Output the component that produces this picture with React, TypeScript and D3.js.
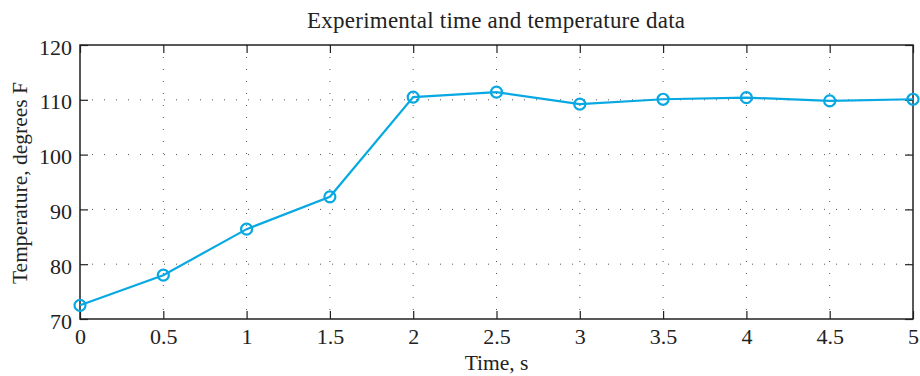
import React, { useEffect, useRef } from "react";
import * as d3 from "d3";

// time in seconds
const times = [0, 0.5, 1, 1.5, 2, 2.5, 3, 3.5, 4, 4.5, 5];
// temperature readings, degrees F
const temps = [72.5, 78.0, 86.4, 92.3, 110.5, 111.4, 109.2, 110.1, 110.4, 109.8, 110.1];

const xTicks = [0, 0.5, 1, 1.5, 2, 2.5, 3, 3.5, 4, 4.5, 5];
const yTicks = [70, 80, 90, 100, 110, 120];

const App = () => {
  const ref = useRef<SVGSVGElement>(null);

  useEffect(() => {
    const svg = d3.select(ref.current);
    svg.selectAll("*").remove();

    const W = 920;
    const H = 376;
    const margin = { top: 45, right: 7, bottom: 57, left: 80 };
    const width = W - margin.left - margin.right;
    const height = H - margin.top - margin.bottom;
    const font = "'Liberation Serif', 'Times New Roman', serif";

    const x = d3.scaleLinear().domain([0, 5]).range([0, width]);
    const y = d3.scaleLinear().domain([70, 120]).range([height, 0]);

    const g = svg.append("g").attr("transform", `translate(${margin.left},${margin.top})`);

    // dotted grid
    g.selectAll(".vgrid")
      .data(xTicks.slice(1, -1))
      .enter()
      .append("line")
      .attr("x1", (d) => x(d))
      .attr("x2", (d) => x(d))
      .attr("y1", 0)
      .attr("y2", height)
      .attr("stroke", "#555")
      .attr("stroke-width", 1)
      .attr("stroke-dasharray", "1,11");
    g.selectAll(".hgrid")
      .data(yTicks.slice(1, -1))
      .enter()
      .append("line")
      .attr("x1", 0)
      .attr("x2", width)
      .attr("y1", (d) => y(d))
      .attr("y2", (d) => y(d))
      .attr("stroke", "#555")
      .attr("stroke-width", 1)
      .attr("stroke-dasharray", "1,11");

    // axes with inward ticks
    const styleAxis = (a: any) => {
      a.select(".domain").remove();
      a.selectAll("line").attr("stroke", "#222").attr("stroke-width", 1.2);
      a.selectAll("text")
        .attr("font-family", font)
        .attr("font-size", 22)
        .attr("fill", "#222");
    };
    const xAxis = g.append("g")
      .attr("transform", `translate(0,${height})`)
      .call(d3.axisBottom(x).tickValues(xTicks).tickSize(-8).tickFormat(d3.format("")))
      .call(styleAxis);
    xAxis.selectAll("text").attr("y", 25).attr("dy", 0);

    const yAxis = g.append("g")
      .call(d3.axisLeft(y).tickValues(yTicks).tickSize(-8).tickPadding(8))
      .call(styleAxis);
    yAxis.selectAll("text").attr("dy", 9);

    g.append("g")
      .call(d3.axisTop(x).tickValues(xTicks).tickSize(-8).tickFormat(() => ""))
      .call(styleAxis);
    g.append("g")
      .attr("transform", `translate(${width},0)`)
      .call(d3.axisRight(y).tickValues(yTicks).tickSize(-8).tickFormat(() => ""))
      .call(styleAxis);

    // box
    g.append("rect")
      .attr("width", width)
      .attr("height", height)
      .attr("fill", "none")
      .attr("stroke", "#222")
      .attr("stroke-width", 1.5);

    const pts = times.map((t, i) => [t, temps[i]] as [number, number]);
    const color = "#08a8e2";

    g.append("path")
      .datum(pts)
      .attr("fill", "none")
      .attr("stroke", color)
      .attr("stroke-width", 2.2)
      .attr("d", d3.line<[number, number]>().x((d) => x(d[0])).y((d) => y(d[1])));

    g.selectAll(".pt")
      .data(pts)
      .enter()
      .append("circle")
      .attr("cx", (d) => x(d[0]))
      .attr("cy", (d) => y(d[1]))
      .attr("r", 5.5)
      .attr("fill", "none")
      .attr("stroke", color)
      .attr("stroke-width", 2.2);

    // title and axis labels
    svg.append("text")
      .attr("x", 307)
      .attr("y", 28)
      .attr("textLength", 378)
      .attr("lengthAdjust", "spacing")
      .attr("font-family", font)
      .attr("font-size", 23)
      .attr("fill", "#222")
      .text("Experimental time and temperature data");
    svg.append("text")
      .attr("x", margin.left + width / 2)
      .attr("y", 370)
      .attr("text-anchor", "middle")
      .attr("font-family", font)
      .attr("font-size", 21.5)
      .attr("fill", "#222")
      .text("Time, s");
    svg.append("text")
      .attr("transform", `translate(27,183) rotate(-90)`)
      .attr("text-anchor", "middle")
      .attr("font-family", font)
      .attr("font-size", 21.5)
      .attr("fill", "#222")
      .text("Temperature, degrees F");
  }, []);

  return (
    <svg
      ref={ref}
      width={920}
      height={376}
      style={{ position: "absolute", left: 0, top: 0, background: "#fff" }}
    />
  );
};

export default App;
